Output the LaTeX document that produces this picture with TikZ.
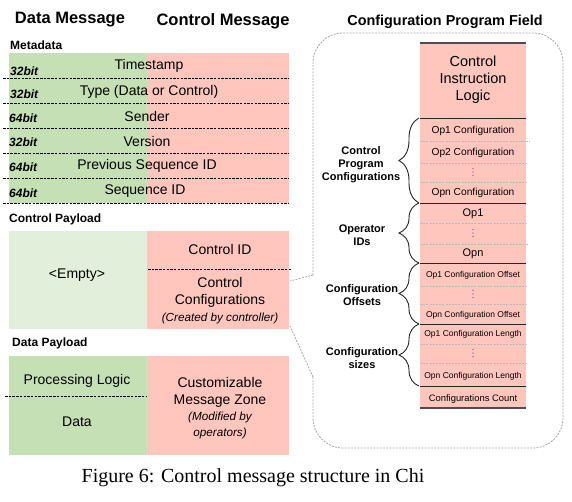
\documentclass[tikz,border=0pt]{standalone}
\usepackage{fontspec}
\setmainfont{Liberation Sans}
\newfontfamily\capfont{Liberation Serif}
\usetikzlibrary{decorations.pathreplacing}
\definecolor{datagreen}{HTML}{C5E0B4}
\definecolor{palegreen}{HTML}{E2EFDA}
\definecolor{ctrlred}{HTML}{FFC6BE}
\definecolor{dotpurple}{HTML}{8E3B8E}
\definecolor{frame}{HTML}{A6A6A6}
\newcommand{\notefont}{\fontsize{11.7}{14}\selectfont\itshape}
% three small dots standing for the skipped rows
\newcommand{\skiprow}[2]{%
  \fill[color=dotpurple] (#1,#2-3.5) circle (0.65);
  \fill[color=dotpurple] (#1,#2) circle (0.65);
  \fill[color=dotpurple] (#1,#2+3.5) circle (0.65);}

\begin{document}
\begin{tikzpicture}[x=1pt,y=-1pt,
  head/.style={anchor=center,inner sep=0pt,font=\fontsize{16.5}{18}\selectfont\bfseries},
  sect/.style={anchor=west,inner sep=0pt,font=\fontsize{12}{14}\selectfont\bfseries},
  field/.style={anchor=center,inner sep=0pt,align=center,font=\fontsize{14}{16.5}\selectfont},
  bits/.style={anchor=west,inner sep=0pt,font=\fontsize{12}{14}\selectfont\bfseries\itshape},
  slot/.style={anchor=center,inner sep=0pt,font=\fontsize{10.2}{12}\selectfont},
  tiny/.style={anchor=center,inner sep=0pt,font=\fontsize{8.5}{10}\selectfont},
  opid/.style={anchor=center,inner sep=0pt,font=\fontsize{11}{13}\selectfont},
  group/.style={anchor=center,inner sep=0pt,align=center,font=\fontsize{11}{13}\selectfont\bfseries},
  sep/.style={draw=black,line width=0.6pt,dash pattern=on 2.5pt off 1.2pt},
  lsep/.style={draw=frame!80,line width=0.6pt,dash pattern=on 2pt off 1.2pt},
  cut/.style={draw=black!85,line width=0.9pt},
  span/.style={draw=black!85,line width=0.9pt,decorate,decoration={brace,amplitude=20pt,aspect=0.5}},
  callout/.style={draw=frame,line width=0.8pt,dash pattern=on 2pt off 1.2pt}]
\useasboundingbox (0,0) rectangle (572,502);

% headings
\node[head] (hdata) at (70,20) {Data Message};
\node[head] (hctrl) at (223,21) {Control Message};
\node[head,font=\fontsize{14.4}{17}\selectfont\bfseries] (hcfg) at (445,22) {Configuration Program Field};

% metadata
\node[sect] (meta) at (10,45) {Metadata};
\fill[color=datagreen] (9,53) rectangle (147,203);
\fill[color=ctrlred] (147,53) rectangle (289,203);
\draw[sep] (3,78) -- (289,78);
\draw[sep] (3,103) -- (289,103);
\draw[sep] (3,128) -- (289,128);
\draw[sep] (3,153) -- (289,153);
\draw[sep] (3,178) -- (289,178);
\draw[sep] (3,203) -- (289,203);

\node[field] (ts) at (149,66) {Timestamp};
\node[field] (type) at (149,92) {Type (Data or Control)};
\node[field] (sender) at (147,116) {Sender};
\node[field] (ver) at (147,141) {Version};
\node[field] (prev) at (147,166) {Previous Sequence ID};
\node[field] (seq) at (145,191) {Sequence ID};

\node[bits] (b1) at (10,71) {32bit};
\node[bits] (b2) at (10,94) {32bit};
\node[bits] (b3) at (9,118) {64bit};
\node[bits] (b4) at (9,142) {32bit};
\node[bits] (b5) at (9,167) {64bit};
\node[bits] (b6) at (9,193) {64bit};

% control payload
\node[sect] (cpay) at (9,219) {Control Payload};
\fill[color=palegreen] (9,231) rectangle (147,329);
\fill[color=ctrlred] (147,231) rectangle (289,329);
\draw[sep] (148,269) -- (291,269);
\node[field] (empty) at (77,275) {<Empty>};
\node[field] (cid) at (220,249) {Control ID};
\node[field] (ccfg) at (220,301) {Control\\Configurations\\[1pt]{\notefont (Created by controller)}};

% data payload
\node[sect] (dpay) at (12,343) {Data Payload};
\fill[color=datagreen] (9,356) rectangle (147,455);
\fill[color=ctrlred] (147,356) rectangle (289,455);
\draw[sep] (5,396) -- (147,396);
\node[field] (plogic) at (77,381) {Processing Logic};
\node[field] (dat) at (77,422) {Data};
\node[field] (zone) at (220,408) {Customizable\\Message Zone\\{\notefont (Modified by}\\[-1pt]{\notefont operators)}};

% configuration program field
\draw[callout,rounded corners=30pt] (313,275) -- (313,33) -- (563,33) -- (563,448) -- (313,448) -- (313,377);
\draw[callout] (313,275) -- (290,281);
\draw[callout] (313,377) -- (290,326);

\fill[color=ctrlred] (420,43) rectangle (526,408);
\draw[draw=black!70,line width=1.3pt] (420,43) -- (526,43);
\node[field,font=\fontsize{14.5}{17}\selectfont] (cil) at (473,80) {Control\\Instruction\\Logic};
\draw[cut] (420,118) -- (526,118);
\node[slot] (op1c) at (473,131) {Op1 Configuration};
\draw[lsep] (420,141) -- (530,141);
\node[slot] (op2c) at (473,153) {Op2 Configuration};
\draw[lsep] (420,163) -- (526,163);
\skiprow{473}{172}
\draw[lsep] (420,182) -- (526,182);
\node[slot] (opnc) at (473,193) {Opn Configuration};
\draw[cut] (420,203) -- (526,203);
\node[opid] (op1) at (473,214) {Op1};
\draw[lsep] (420,223) -- (526,223);
\skiprow{473}{233}
\draw[lsep] (420,244) -- (528,244);
\node[opid] (opn) at (473,254) {Opn};
\draw[cut] (420,263) -- (526,263);
\node[tiny] (off1) at (473,275) {Op1 Configuration Offset};
\draw[lsep] (420,286) -- (526,286);
\skiprow{473}{294}
\draw[lsep] (420,304) -- (526,304);
\node[tiny] (offn) at (473,315) {Opn Configuration Offset};
\draw[cut] (420,324) -- (526,324);
\node[tiny] (len1) at (473,334) {Op1 Configuration Length};
\draw[lsep] (420,344) -- (526,344);
\skiprow{473}{353}
\draw[lsep] (420,363) -- (526,363);
\node[tiny] (lenn) at (473,376) {Opn Configuration Length};
\draw[cut] (420,386) -- (526,386);
\node[slot,font=\fontsize{9.4}{11}\selectfont] (count) at (473,399) {Configurations Count};
\draw[draw=black!70,line width=1.3pt] (420,408) -- (526,408);

% braces and group labels
\draw[span] (419,203) -- (419,118);
\draw[span] (419,263) -- (419,203);
\draw[span] (419,324) -- (419,263);
\draw[span] (419,386) -- (419,324);
\node[group] (gcfg) at (361,165) {Control\\Program\\Configurations};
\node[group] (gids) at (362,235) {Operator\\IDs};
\node[group] (goff) at (362,295) {Configuration\\Offsets};
\node[group] (gsize) at (362,358) {Configuration\\sizes};

% caption
\node[anchor=center,inner sep=0pt,font=\capfont\fontsize{20}{23}\selectfont] (cap) at (253,478) {Figure 6: Control message structure in Chi};
\end{tikzpicture}
\end{document}
